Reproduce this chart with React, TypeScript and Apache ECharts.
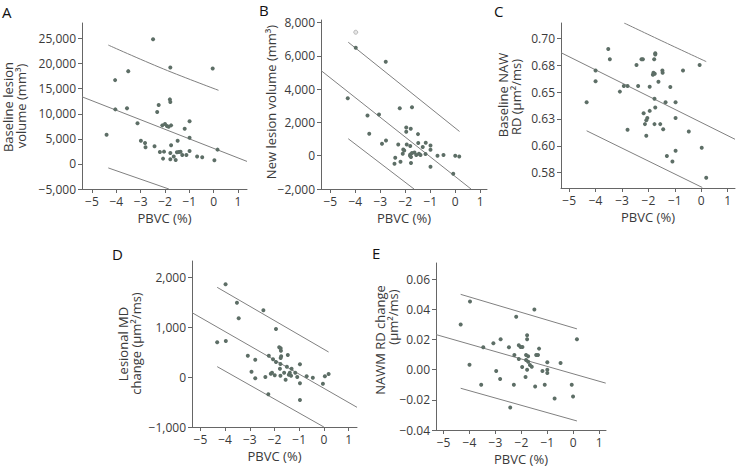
import React, { useEffect, useRef } from "react";
import * as echarts from "echarts";

const xTicks = [-5, -4, -3, -2, -1, 0, 1];
const xName = "PBVC (%)";

// Panel A: Baseline lesion volume (mm³)
const aTicks = [-5000, 0, 5000, 10000, 15000, 20000, 25000];
const aPoints = [
  [-2.49, 24860], [-1.78, 19230], [-0.04, 19030], [-3.51, 18500], [-4.05, 16710],
  [-1.8, 12870], [-1.78, 12330], [-2.26, 11735], [-2.32, 10343], [-4.04, 10880],
  [-3.56, 11080], [-3.13, 8095], [-0.99, 8490], [-1.19, 7030], [-2.11, 7690],
  [-2.0, 7956], [-1.92, 7560], [-1.75, 7690], [-1.85, 7430], [-0.99, 5230],
  [-4.4, 5830], [-2.99, 4640], [-2.82, 4180], [-2.8, 3320], [-2.43, 3520],
  [-1.48, 4640], [-1.75, 3720], [0.16, 2850], [-0.99, 2590], [-2.21, 2390],
  [-2.04, 2450], [-1.78, 2190], [-1.51, 2320], [-1.43, 2390], [-1.36, 2420],
  [-1.12, 1790], [-1.29, 1790], [-1.64, 1460], [-0.68, 1460], [-0.47, 1330],
  [-2.08, 1060], [-1.78, 930], [-1.56, 795], [0.03, 730],
];
const aFit = [[-5.41, 13385], [1.37, 500]];
const aUpper = [[-4.33, 23700], [-2.07, 18950], [0.2, 14680]];
const aLower = [[-4.33, -800], [-1.84, -5000]];

// Panel B: New lesion volume (mm³)
const bTicks = [-2000, 0, 2000, 4000, 6000, 8000];
const bPoints = [
  [-3.98, 6486], [-2.78, 5645], [-4.3, 3460], [-2.22, 2860], [-1.73, 2920],
  [-3.51, 2420], [-3.05, 2480], [-3.44, 1320], [-1.96, 1700], [-1.78, 1620],
  [-1.96, 1440], [-1.49, 1300], [-2.93, 720], [-2.77, 920], [-2.28, 680],
  [-1.94, 680], [-2.08, 380], [-2.04, 320], [-1.8, 580], [-1.48, 760],
  [-1.18, 780], [-0.99, 620], [-0.99, 360], [-1.3, 520], [-2.1, 120],
  [-1.8, 80], [-1.73, 160], [-1.63, 200], [-1.56, 40], [-1.45, 120],
  [-1.39, 40], [-1.19, 100], [-1.81, 0], [-1.77, -80], [-0.71, 0],
  [-0.47, 40], [0.0, 0], [0.16, -40], [-2.4, -120], [-2.19, -360],
  [-2.43, -480], [-1.77, -440], [-0.99, -660], [-0.08, -1080],
];
const bOpen = [[-3.98, 7425]];
const bFit = [[-5.37, 5123], [0.63, -2000]];
const bUpper = [[-4.28, 6823], [0.17, 1459]];
const bLower = [[-4.28, 1021], [-1.65, -2000]];

// Panel C: Baseline NAW RD (µm²/ms)
const cTicks = [0.575, 0.6, 0.625, 0.65, 0.675, 0.7];
const cPoints = [
  [-3.52, 0.69], [-3.46, 0.6805], [-1.74, 0.686], [-1.74, 0.685], [-2.26, 0.6805],
  [-2.21, 0.6805], [-1.78, 0.6805], [-2.45, 0.6752], [-0.06, 0.6752], [-4.0, 0.67],
  [-1.81, 0.668], [-1.76, 0.667], [-1.83, 0.666], [-1.47, 0.67], [-1.46, 0.668],
  [-0.69, 0.67], [-4.0, 0.66], [-1.62, 0.6595], [-2.93, 0.6557], [-2.79, 0.6557],
  [-2.39, 0.6557], [-1.95, 0.655], [-1.17, 0.6547], [-3.08, 0.6504], [-1.77, 0.6437],
  [-4.34, 0.6406], [-1.35, 0.6406], [-0.97, 0.6406], [-1.74, 0.6356], [-1.95, 0.6325],
  [-2.18, 0.6303], [-2.04, 0.6258], [-2.08, 0.6238], [-0.97, 0.6258], [-2.13, 0.6202],
  [-1.77, 0.6202], [-1.55, 0.6202], [-2.79, 0.6149], [-1.44, 0.6155], [-0.47, 0.6133],
  [-2.08, 0.6093], [0.02, 0.5982], [-0.97, 0.5954], [-1.3, 0.5905], [-1.09, 0.5855],
  [0.19, 0.5704],
];
const cFit = [[-5.31, 0.6866], [1.28, 0.6061]];
const cUpper = [[-2.92, 0.7142], [-1.4, 0.6965], [0.19, 0.6783]];
const cLower = [[-4.34, 0.614], [0.04, 0.5613]];

// Panel D: Lesional MD change (µm²/ms)
const dTicks = [-1000, 0, 1000, 2000];
const dPoints = [
  [-3.98, 1853], [-3.52, 1487], [-2.45, 1333], [-3.45, 1173], [-1.94, 960],
  [-4.32, 693], [-3.97, 720], [-1.81, 593], [-1.75, 573], [-1.74, 527],
  [-3.08, 427], [-2.23, 427], [-1.46, 440], [-1.73, 413], [-2.78, 347],
  [-2.06, 353], [-1.75, 380], [-1.94, 300], [-1.76, 260], [-0.97, 253],
  [-1.5, 207], [-1.78, 167], [-1.31, 167], [-2.93, 107], [-1.61, 87],
  [-1.38, 87], [-1.16, 87], [-2.15, 67], [-2.1, 87], [-1.99, 33],
  [-1.42, 47], [-1.33, 27], [-1.76, 27], [-1.08, 0], [-0.7, 13],
  [-0.45, -13], [0.04, 13], [0.19, 60], [-2.78, -27], [-2.37, 0],
  [-1.55, -53], [-0.97, -127], [-0.04, -133], [-2.25, -347], [-0.97, -460],
];
const dFit = [[-5.34, 1287], [1.34, -606]];
const dUpper = [[-4.32, 1793], [0.19, 500]];
const dLower = [[-4.32, 207], [0.0, -1000]];

// Panel E: NAWM RD change (µm²/ms)
const eTicks = [-0.04, -0.02, 0, 0.02, 0.04, 0.06];
const ePoints = [
  [-3.98, 0.0453], [-1.5, 0.04], [-2.2, 0.0351], [-4.34, 0.03], [-1.78, 0.0229],
  [-2.8, 0.0202], [-1.78, 0.0202], [0.14, 0.0202], [-3.08, 0.0175], [-2.1, 0.0162],
  [-2.03, 0.0151], [-1.96, 0.0151], [-3.47, 0.0149], [-2.48, 0.0149], [-1.32, 0.014],
  [-2.27, 0.0097], [-1.82, 0.0097], [-1.74, 0.0089], [-1.43, 0.0097], [-1.36, 0.0097],
  [-2.1, 0.0071], [-1.82, 0.0064], [-1.74, 0.0053], [-1.0, 0.0049], [-0.49, 0.0044],
  [-1.67, 0.0031], [-1.6, 0.002], [-4.0, 0.0033], [-1.97, 0.0018], [-1.78, 0.0],
  [-1.0, 0.0], [-1.19, -0.0009], [-1.0, -0.0022], [-2.97, -0.0009], [-1.84, -0.0049],
  [-2.82, -0.0062], [-3.55, -0.01], [-2.29, -0.01], [-1.47, -0.0111], [-1.1, -0.01],
  [-0.06, -0.01], [-0.01, -0.0178], [-0.72, -0.0191], [-2.43, -0.0251],
];
const eFit = [[-5.29, 0.0233], [1.25, -0.0089]];
const eUpper = [[-4.34, 0.05], [0.14, 0.0271]];
const eLower = [[-4.34, -0.0123], [0.14, -0.034]];

const FONT = '"Open Sans", "Noto Sans", sans-serif';
const AXIS_COLOR = "#666";
const LABEL_COLOR = "#3a3a3a";
const LINE_COLOR = "#808080";
const DOT_COLOR = "#5d6e66";

const minus = (s: string) => s.replace("-", "\u2212");
const fmtThousands = (v: number) =>
  (v < 0 ? "\u2212" : "") + Math.abs(Math.round(v)).toLocaleString("en-US");
const fmt2 = (v: number) => {
  const r = Math.round(v * 100 + (v >= 0 ? 1e-6 : -1e-6)) / 100;
  const s = Math.abs(r).toFixed(2);
  return r < 0 ? "\u2212" + s : s;
};

type Panel = {
  grid: { left: number; top: number; width: number; height: number };
  xMin: number; xMax: number; yMin: number; yMax: number;
  yTicks: number[];
  fmt: (v: number) => string;
  points: number[][];
  fit: number[][]; upper: number[][]; lower: number[][];
  smoothUpper?: boolean;
};

const panels: Panel[] = [
  { grid: { left: 82, top: 23, width: 165, height: 166 }, xMin: -5.41, xMax: 1.37, yMin: -5000, yMax: 28100,
    yTicks: aTicks, fmt: fmtThousands, points: aPoints, fit: aFit, upper: aUpper, lower: aLower, smoothUpper: true },
  { grid: { left: 321, top: 20, width: 166, height: 169 }, xMin: -5.37, xMax: 1.27, yMin: -2000, yMax: 8160,
    yTicks: bTicks, fmt: fmtThousands, points: bPoints, fit: bFit, upper: bUpper, lower: bLower },
  { grid: { left: 561, top: 23, width: 174, height: 165 }, xMin: -5.31, xMax: 1.28, yMin: 0.5608, yMax: 0.7142,
    yTicks: cTicks, fmt: fmt2, points: cPoints, fit: cFit, upper: cUpper, lower: cLower, smoothUpper: true },
  { grid: { left: 192, top: 261, width: 165, height: 166 }, xMin: -5.34, xMax: 1.34, yMin: -1000, yMax: 2320,
    yTicks: dTicks, fmt: fmtThousands, points: dPoints, fit: dFit, upper: dUpper, lower: dLower },
  { grid: { left: 436, top: 263, width: 170, height: 167 }, xMin: -5.29, xMax: 1.26, yMin: -0.04, yMax: 0.0708,
    yTicks: eTicks, fmt: fmt2, points: ePoints, fit: eFit, upper: eUpper, lower: eLower },
];

const panelLetters = [
  { t: "A", x: 2, y: 12 },
  { t: "B", x: 259, y: 10 },
  { t: "C", x: 494, y: 11 },
  { t: "D", x: 112, y: 254 },
  { t: "E", x: 372, y: 253 },
];

const yNames = [
  { t: "Baseline lesion", x: 8, y: 107 },
  { t: "volume (mm\u00b3)", x: 21, y: 106 },
  { t: "New lesion volume (mm\u00b3)", x: 271, y: 102 },
  { t: "Baseline NAW", x: 502.5, y: 95 },
  { t: "RD (\u00b5m\u00b2/ms)", x: 516, y: 97 },
  { t: "Lesional MD", x: 122.5, y: 344 },
  { t: "change (\u00b5m\u00b2/ms)", x: 136, y: 343.5 },
  { t: "NAWM RD change", x: 380, y: 340 },
  { t: "(\u00b5m\u00b2/ms)", x: 392.5, y: 317 },
];

export default function App() {
  const ref = useRef<HTMLDivElement>(null);
  useEffect(() => {
    if (!ref.current) return;
    const chart = echarts.init(ref.current, undefined, { renderer: "svg" });
    const grids: any[] = [];
    const xAxes: any[] = [];
    const yAxes: any[] = [];
    const series: any[] = [];
    panels.forEach((p, i) => {
      grids.push({ ...p.grid, containLabel: false });
      xAxes.push({
        type: "value", gridIndex: i, min: p.xMin, max: p.xMax,
        name: xName, nameLocation: "middle", nameGap: 22,
        nameTextStyle: { fontFamily: FONT, fontSize: 13, color: LABEL_COLOR },
        axisLine: { show: true, onZero: false, lineStyle: { color: AXIS_COLOR, width: 1 } },
        axisTick: { show: true, length: 4, customValues: xTicks, lineStyle: { color: AXIS_COLOR } },
        axisLabel: {
          customValues: xTicks, margin: 6, fontFamily: FONT, fontSize: 12, color: LABEL_COLOR,
          formatter: (v: number) => minus(String(v)),
        },
        splitLine: { show: false },
      });
      yAxes.push({
        type: "value", gridIndex: i, min: p.yMin, max: p.yMax,
        axisLine: { show: true, onZero: false, lineStyle: { color: AXIS_COLOR, width: 1 } },
        axisTick: { show: true, length: 4, customValues: p.yTicks, lineStyle: { color: AXIS_COLOR } },
        axisLabel: {
          customValues: p.yTicks, margin: 6, fontFamily: FONT, fontSize: 12, color: LABEL_COLOR,
          formatter: (v: number) => p.fmt(v),
        },
        splitLine: { show: false },
      });
      const lineBase = {
        type: "line", xAxisIndex: i, yAxisIndex: i, symbol: "none", silent: true,
        lineStyle: { color: LINE_COLOR, width: 1 }, clip: true, z: 2,
      };
      series.push({ ...lineBase, data: p.fit });
      series.push({ ...lineBase, data: p.upper, smooth: p.smoothUpper ? 0.4 : false });
      series.push({ ...lineBase, data: p.lower });
      series.push({
        type: "scatter", xAxisIndex: i, yAxisIndex: i, data: p.points,
        symbol: "circle", symbolSize: 4, itemStyle: { color: DOT_COLOR, opacity: 1 }, z: 3,
      });
    });
    series.push({
      type: "scatter", xAxisIndex: 1, yAxisIndex: 1, data: bOpen,
      symbol: "circle", symbolSize: 4,
      itemStyle: { color: "#e0e0e0", borderColor: "#9a9a9a", borderWidth: 0.8 }, z: 3,
    });

    const graphics: any[] = [];
    panelLetters.forEach((l) => {
      graphics.push({
        type: "text", x: l.x, y: l.y,
        style: {
          text: l.t, font: `15px ${FONT}`, fill: "#111",
          align: "left", verticalAlign: "middle", textAlign: "left", textVerticalAlign: "middle",
        },
      });
    });
    yNames.forEach((n) => {
      graphics.push({
        type: "text", x: n.x, y: n.y, rotation: Math.PI / 2,
        style: {
          text: n.t, font: `13px ${FONT}`, fill: LABEL_COLOR,
          align: "center", verticalAlign: "middle", textAlign: "center", textVerticalAlign: "middle",
        },
      });
    });

    chart.setOption({
      animation: false,
      backgroundColor: "#ffffff",
      grid: grids,
      xAxis: xAxes,
      yAxis: yAxes,
      series,
      graphic: graphics,
    });
    return () => chart.dispose();
  }, []);
  return (
    <div
      ref={ref}
      style={{ position: "fixed", left: 0, top: 0, width: 738, height: 467, background: "#fff" }}
    />
  );
}
